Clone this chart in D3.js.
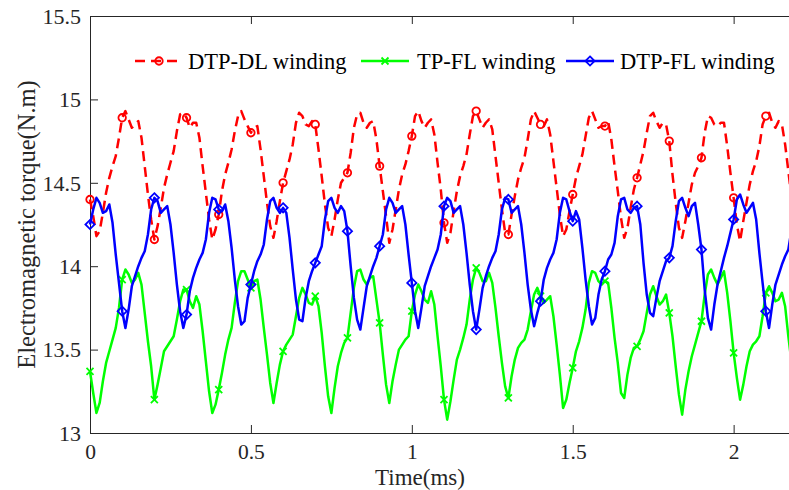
<!DOCTYPE html>
<html>
<head>
<meta charset="utf-8">
<script src="https://cdn.jsdelivr.net/npm/d3@7"></script>
<style>
  body { margin: 0; background: #fff; }
</style>
</head>
<body>
<div id="chart"></div>
<script>

// sampling: one value every 0.01 ms starting at t = 0, a marker every 10th sample
const dt = 0.01
const markerEvery = 10

const seriesNames = ["DTP-DL winding", "TP-FL winding", "DTP-FL winding"]

const dtpDL = [
  14.40, 14.30, 14.18, 14.21, 14.32, 14.44, 14.53, 14.60, 14.66, 14.77,
  14.89, 14.93, 14.88, 14.83, 14.85, 14.87, 14.77, 14.60, 14.43, 14.28,
  14.16, 14.24, 14.35, 14.47, 14.55, 14.62, 14.69, 14.81, 14.91, 14.92,
  14.89, 14.83, 14.86, 14.86, 14.77, 14.60, 14.44, 14.28, 14.16, 14.22,
  14.31, 14.45, 14.55, 14.62, 14.70, 14.81, 14.90, 14.93, 14.88, 14.84,
  14.80, 14.83, 14.84, 14.70, 14.54, 14.38, 14.24, 14.17, 14.27, 14.39,
  14.50, 14.57, 14.64, 14.73, 14.86, 14.92, 14.90, 14.85, 14.84, 14.87,
  14.85, 14.70, 14.54, 14.37, 14.23, 14.18, 14.28, 14.40, 14.50, 14.53,
  14.56, 14.68, 14.83, 14.91, 14.92, 14.86, 14.83, 14.86, 14.87, 14.76,
  14.60, 14.45, 14.30, 14.14, 14.22, 14.34, 14.46, 14.55, 14.61, 14.69,
  14.78, 14.90, 14.93, 14.87, 14.83, 14.86, 14.88, 14.79, 14.62, 14.46,
  14.26, 14.14, 14.20, 14.33, 14.45, 14.54, 14.60, 14.67, 14.79, 14.90,
  14.93, 14.88, 14.83, 14.86, 14.88, 14.82, 14.66, 14.50, 14.34, 14.20,
  14.19, 14.31, 14.42, 14.52, 14.59, 14.65, 14.76, 14.88, 14.93, 14.89,
  14.85, 14.84, 14.88, 14.79, 14.63, 14.47, 14.31, 14.18, 14.22, 14.33,
  14.43, 14.53, 14.60, 14.67, 14.78, 14.89, 14.93, 14.88, 14.83, 14.84,
  14.84, 14.87, 14.76, 14.60, 14.45, 14.29, 14.17, 14.23, 14.35, 14.46,
  14.53, 14.61, 14.69, 14.80, 14.90, 14.92, 14.87, 14.83, 14.86, 14.85,
  14.75, 14.55, 14.38, 14.23, 14.17, 14.27, 14.38, 14.49, 14.56, 14.60,
  14.65, 14.80, 14.90, 14.89, 14.85, 14.84, 14.86, 14.86, 14.72, 14.56,
  14.41, 14.25, 14.15, 14.27, 14.38, 14.49, 14.57, 14.63, 14.72, 14.85,
  14.90, 14.92, 14.86, 14.83, 14.87, 14.85, 14.73, 14.57, 14.41
]

const tpFL = [
  13.37, 13.24, 13.12, 13.18, 13.31, 13.42, 13.49, 13.56, 13.63, 13.75,
  13.92, 13.98, 13.95, 13.90, 13.92, 13.96, 13.89, 13.72, 13.55, 13.40,
  13.20, 13.29, 13.39, 13.49, 13.52, 13.55, 13.58, 13.68, 13.79, 13.86,
  13.86, 13.79, 13.75, 13.82, 13.77, 13.61, 13.43, 13.25, 13.12, 13.17,
  13.26, 13.36, 13.47, 13.56, 13.63, 13.78, 13.91, 13.97, 13.97, 13.92,
  13.87, 13.91, 13.92, 13.80, 13.63, 13.47, 13.30, 13.18, 13.30, 13.41,
  13.49, 13.53, 13.56, 13.59, 13.70, 13.81, 13.87, 13.83, 13.78, 13.77,
  13.82, 13.76, 13.60, 13.40, 13.22, 13.12, 13.27, 13.40, 13.48, 13.54,
  13.57, 13.72, 13.87, 13.97, 13.98, 13.92, 13.89, 13.93, 13.94, 13.80,
  13.66, 13.47, 13.29, 13.18, 13.31, 13.41, 13.50, 13.53, 13.56, 13.58,
  13.73, 13.83, 13.89, 13.85, 13.80, 13.78, 13.85, 13.77, 13.58, 13.40,
  13.20, 13.08, 13.19, 13.32, 13.44, 13.50, 13.57, 13.65, 13.80, 13.92,
  13.99, 13.96, 13.91, 13.91, 13.96, 13.90, 13.75, 13.58, 13.42, 13.28,
  13.21, 13.34, 13.44, 13.51, 13.54, 13.56, 13.62, 13.73, 13.83, 13.87,
  13.82, 13.78, 13.80, 13.82, 13.70, 13.53, 13.35, 13.15, 13.20, 13.30,
  13.39, 13.49, 13.55, 13.63, 13.74, 13.90, 13.97, 13.96, 13.91, 13.89,
  13.91, 13.90, 13.75, 13.57, 13.42, 13.24, 13.21, 13.35, 13.45, 13.51,
  13.52, 13.56, 13.61, 13.72, 13.83, 13.88, 13.82, 13.77, 13.79, 13.83,
  13.72, 13.58, 13.40, 13.23, 13.11, 13.26, 13.37, 13.46, 13.53, 13.60,
  13.67, 13.83, 13.95, 13.98, 13.93, 13.89, 13.93, 13.97, 13.84, 13.67,
  13.48, 13.33, 13.20, 13.29, 13.40, 13.49, 13.53, 13.55, 13.58, 13.70,
  13.84, 13.88, 13.84, 13.79, 13.80, 13.84, 13.76, 13.58, 13.42
]

const dtpFL = [
  14.25, 14.34, 14.41, 14.38, 14.32, 14.33, 14.37, 14.26, 14.07, 13.90,
  13.73, 13.63, 13.74, 13.88, 13.94, 14.00, 14.05, 14.09, 14.19, 14.34,
  14.41, 14.39, 14.32, 14.34, 14.36, 14.25, 14.08, 13.89, 13.73, 13.63,
  13.71, 13.85, 13.93, 13.99, 14.04, 14.08, 14.16, 14.32, 14.41, 14.40,
  14.34, 14.33, 14.37, 14.27, 14.11, 13.92, 13.76, 13.65, 13.67, 13.81,
  13.89, 13.97, 14.03, 14.07, 14.13, 14.28, 14.39, 14.41, 14.35, 14.32,
  14.35, 14.32, 14.17, 13.98, 13.80, 13.68, 13.67, 13.81, 13.91, 13.97,
  14.02, 14.07, 14.12, 14.28, 14.39, 14.41, 14.35, 14.32, 14.36, 14.33,
  14.21, 14.00, 13.81, 13.68, 13.62, 13.75, 13.88, 13.94, 14.00, 14.05,
  14.12, 14.19, 14.34, 14.41, 14.38, 14.32, 14.34, 14.36, 14.25, 14.07,
  13.90, 13.73, 13.63, 13.75, 13.88, 13.94, 14.00, 14.05, 14.10, 14.19,
  14.36, 14.41, 14.39, 14.32, 14.34, 14.36, 14.25, 14.08, 13.89, 13.73,
  13.62, 13.74, 13.87, 13.94, 14.00, 14.05, 14.09, 14.19, 14.34, 14.41,
  14.40, 14.32, 14.34, 14.36, 14.25, 14.08, 13.89, 13.74, 13.64, 13.72,
  13.79, 13.92, 13.99, 14.04, 14.08, 14.16, 14.32, 14.41, 14.40, 14.33,
  14.27, 14.33, 14.28, 14.11, 13.92, 13.76, 13.65, 13.69, 13.83, 13.92,
  13.97, 14.04, 14.07, 14.14, 14.30, 14.40, 14.41, 14.34, 14.32, 14.35,
  14.36, 14.25, 14.02, 13.83, 13.72, 13.70, 13.81, 13.91, 13.97, 14.03,
  14.05, 14.12, 14.27, 14.39, 14.41, 14.35, 14.30, 14.36, 14.38, 14.25,
  14.10, 13.86, 13.69, 13.62, 13.77, 13.89, 13.97, 14.05, 14.12, 14.20,
  14.28, 14.40, 14.43, 14.37, 14.32, 14.35, 14.38, 14.28, 14.08, 13.90,
  13.73, 13.63, 13.77, 13.89, 13.95, 14.01, 14.06, 14.10, 14.22
]

const xTicks = [0, 0.5, 1, 1.5, 2]
const yTicks = [13, 13.5, 14, 14.5, 15, 15.5]

const width = 789, height = 490
const plot = {left: 90, right: 798, top: 16, bottom: 433}
const axisColor = "#262626"
const serif = '"Times New Roman", "Liberation Serif", "DejaVu Serif", serif'

const svg = d3.select("#chart").append("svg")
    .attr("width", width)
    .attr("height", height)
    .attr("viewBox", [0, 0, width, height])
    .attr("font-family", serif)

const x = d3.scaleLinear().domain([0, 2.2]).range([plot.left, plot.right])
const y = d3.scaleLinear().domain([13, 15.5]).range([plot.bottom, plot.top])

// axes (box on, ticks pointing inwards)
const xAxis = svg.append("g")
    .attr("transform", `translate(0,${plot.bottom})`)
    .call(d3.axisBottom(x).tickValues(xTicks).tickFormat(d3.format("")).tickSize(-8).tickSizeOuter(0).tickPadding(11))

svg.append("g")
    .attr("transform", `translate(0,${plot.top})`)
    .call(d3.axisTop(x).tickValues(xTicks).tickFormat("").tickSize(-8).tickSizeOuter(0))

const yAxis = svg.append("g")
    .attr("transform", `translate(${plot.left},0)`)
    .call(d3.axisLeft(y).tickValues(yTicks).tickFormat(d3.format("")).tickSize(-8).tickSizeOuter(0).tickPadding(9))

svg.selectAll(".domain, .tick line").attr("stroke", axisColor).attr("stroke-width", 1)
svg.selectAll("g").attr("font-family", serif)
svg.selectAll(".tick text")
    .attr("fill", axisColor)
    .attr("font-family", serif)
    .attr("font-size", 22)
xAxis.selectAll(".tick text").attr("font-size", 21.5)
yAxis.selectAll(".tick text").attr("dy", "0.33em")

// series
const series = [
  {name: seriesNames[0], values: dtpDL, color: "#ff0000", dash: "10,6", marker: "circle"},
  {name: seriesNames[1], values: tpFL, color: "#00ff00", dash: null, marker: "cross"},
  {name: seriesNames[2], values: dtpFL, color: "#0000ff", dash: null, marker: "diamond"}
]

const markerPath = {
  circle: d3.symbol(d3.symbolCircle, 44)(),
  cross: "M-3.5,-3.5L3.5,3.5M-3.5,3.5L3.5,-3.5",
  diamond: "M0,-4.6L4.6,0L0,4.6L-4.6,0Z"
}

const line = d3.line()
    .x((d, i) => x(i * dt))
    .y(d => y(d))

series.forEach(s => {
  svg.append("path")
      .datum(s.values)
      .attr("fill", "none")
      .attr("stroke", s.color)
      .attr("stroke-width", 2.5)
      .attr("stroke-dasharray", s.dash)
      .attr("stroke-linejoin", "round")
      .attr("d", line)

  svg.append("g")
    .selectAll("path")
    .data(s.values.map((v, i) => ({t: i * dt, v})).filter((d, i) => i % markerEvery === 0))
    .join("path")
      .attr("transform", d => `translate(${x(d.t)},${y(d.v)})`)
      .attr("d", markerPath[s.marker])
      .attr("fill", "none")
      .attr("stroke", s.color)
      .attr("stroke-width", 1.8)
})

// legend (no box)
const legendY = 61
const legendItems = [
  {x0: 135, tx: 188},
  {x0: 361, tx: 417},
  {x0: 566, tx: 620}
]

series.forEach((s, i) => {
  const it = legendItems[i]
  const g = svg.append("g")
  g.append("line")
      .attr("x1", it.x0).attr("x2", it.x0 + 48)
      .attr("y1", legendY).attr("y2", legendY)
      .attr("stroke", s.color)
      .attr("stroke-width", 2.5)
      .attr("stroke-dasharray", s.dash)
  g.append("path")
      .attr("transform", `translate(${it.x0 + 24},${legendY})`)
      .attr("d", markerPath[s.marker])
      .attr("fill", "none")
      .attr("stroke", s.color)
      .attr("stroke-width", 1.8)
  g.append("text")
      .attr("x", it.tx)
      .attr("y", legendY + 7.5)
      .attr("font-family", serif)
      .attr("font-size", 22.5)
      .attr("fill", "#000")
      .text(s.name)
})

// axis labels
svg.append("text")
    .attr("x", 420)
    .attr("y", 485)
    .attr("text-anchor", "middle")
    .attr("font-family", serif)
    .attr("font-size", 23)
    .attr("fill", axisColor)
    .text("Time(ms)")

svg.append("text")
    .attr("transform", `translate(35,${(plot.top + plot.bottom) / 2}) rotate(-90)`)
    .attr("text-anchor", "middle")
    .attr("font-family", serif)
    .attr("font-size", 24.5)
    .attr("fill", axisColor)
    .text("Electromagnetic torque(N.m)")

</script>
</body>
</html>
